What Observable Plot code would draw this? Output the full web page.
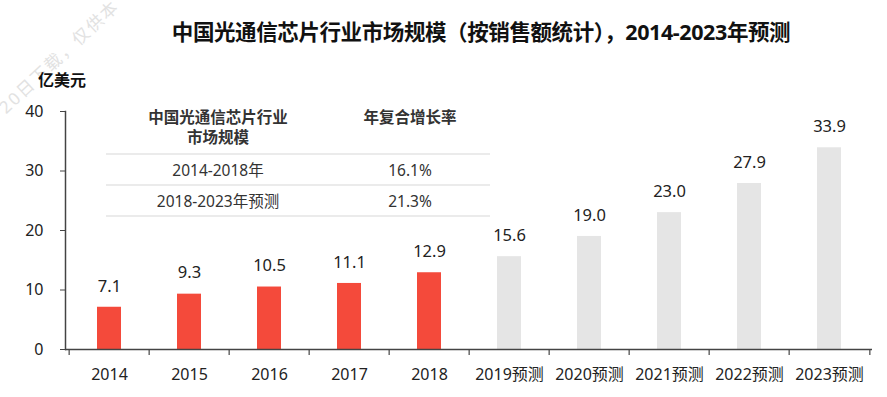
<!DOCTYPE html>
<html>
<head>
<meta charset="utf-8">
<script src="https://cdn.jsdelivr.net/npm/d3@7"></script>
<script src="https://cdn.jsdelivr.net/npm/@observablehq/plot@0.6"></script>
<style>
  html, body { margin: 0; padding: 0; background: #fff; }
  #wrap { position: relative; width: 887px; height: 397px; overflow: hidden;
          font-family: "Noto Sans", "Noto Sans CJK SC", sans-serif; color: #222; }
  #title { position: absolute; left: 0; width: 962px; top: 15px; text-align: center;
           font-size: 21.5px; font-weight: bold; color: #111; white-space: nowrap; letter-spacing: -0.4px; }
  #unit { position: absolute; left: 38px; top: 67px; font-size: 16px; font-weight: bold; color: #111; }
  #wm { position: absolute; left: 2px; top: 101px; font-size: 17px; line-height: 18px; color: #e2e2e2;
        transform-origin: 0 50%; transform: rotate(-43deg); white-space: nowrap; letter-spacing: 2px; }
  table { position: absolute; left: 106px; top: 105px; border-collapse: collapse; font-size: 15.5px; color: #333; }
  th { font-weight: bold; vertical-align: top; padding: 2px 0 0 0; line-height: 20px; height: 46px;
       border-bottom: 2px solid #ebebeb; color: #333; font-size: 15.5px; }
  td { text-align: center; padding: 0; height: 29px; border-bottom: 2px solid #ebebeb; }
  .c1 { width: 224px; } .c2 { width: 160px; }
</style>
</head>
<body>
<div id="wrap"></div>
<script>
// ---- data ----
const years = ["2014","2015","2016","2017","2018","2019预测","2020预测","2021预测","2022预测","2023预测"];
const values = [7.1, 9.3, 10.5, 11.1, 12.9, 15.6, 19.0, 23.0, 27.9, 33.9];
const isForecast = [false,false,false,false,false,true,true,true,true,true];
const yTicks = [0, 10, 20, 30, 40];
const titleText = "中国光通信芯片行业市场规模（按销售额统计），2014-2023年预测";
const unitText = "亿美元";
const tableHeader = ["中国光通信芯片行业<br>市场规模", "年复合增长率"];
const tablePeriods = ["2014-2018年", "2018-2023年预测"];
const tableCagr = ["16.1%", "21.3%"];
const watermark = "20日下载，仅供本";

const data = years.map((y, i) => ({year: y, value: values[i], forecast: isForecast[i]}));

const W = 887, H = 397, mL = 65, mR = 15;
const step = (W - mL - mR) / years.length;

const chart = Plot.plot({
  width: W, height: H,
  marginTop: 111, marginBottom: 48, marginLeft: mL, marginRight: mR,
  style: {fontFamily: '"Noto Sans", "Noto Sans CJK SC", sans-serif', fontSize: "16px", color: "#222", background: "transparent"},
  x: {domain: years, paddingInner: 0.7, paddingOuter: 0.35, axis: null},
  y: {domain: [0, 40], axis: null},
  marks: [
    Plot.barY(data, {x: "year", y: "value", fill: d => d.forecast ? "#e5e5e5" : "#f44a3b"}),
    Plot.text(data, {x: "year", y: "value", text: d => d.value.toFixed(1), dy: -21, fontSize: 16.5, fill: "#222"}),
    Plot.ruleY([0], {stroke: "#444", strokeWidth: 1.5}),
    Plot.axisY({ticks: yTicks, tickSize: 5, tickPadding: 17, stroke: "#444", fontSize: 16, fill: "#222", label: null}),
    Plot.frame({anchor: "left", stroke: "#444", strokeWidth: 1.5}),
    Plot.axisX({tickSize: 0, tickPadding: 19, fontSize: 16, fill: "#222", label: null}),
    Plot.ruleX(years, {x: d => d, dx: -step / 2, y1: 0, y2: -1, stroke: "#444", strokeWidth: 1.2}),
    Plot.ruleX(years.slice(-1), {x: d => d, dx: step / 2, y1: 0, y2: -1, stroke: "#444", strokeWidth: 1.2})
  ]
});

const wrap = document.getElementById("wrap");
wrap.appendChild(chart);
chart.style.position = "absolute";
chart.style.left = "0"; chart.style.top = "0";

const wm = document.createElement("div"); wm.id = "wm"; wm.textContent = watermark; wrap.appendChild(wm);
const t = document.createElement("div"); t.id = "title"; t.textContent = titleText; wrap.appendChild(t);
const u = document.createElement("div"); u.id = "unit"; u.textContent = unitText; wrap.appendChild(u);

const table = document.createElement("table");
let html = `<tr><th class="c1">${tableHeader[0]}</th><th class="c2">${tableHeader[1]}</th></tr>`;
tablePeriods.forEach((p, i) => { html += `<tr><td class="c1">${p}</td><td class="c2">${tableCagr[i]}</td></tr>`; });
table.innerHTML = html;
wrap.appendChild(table);
</script>
</body>
</html>
